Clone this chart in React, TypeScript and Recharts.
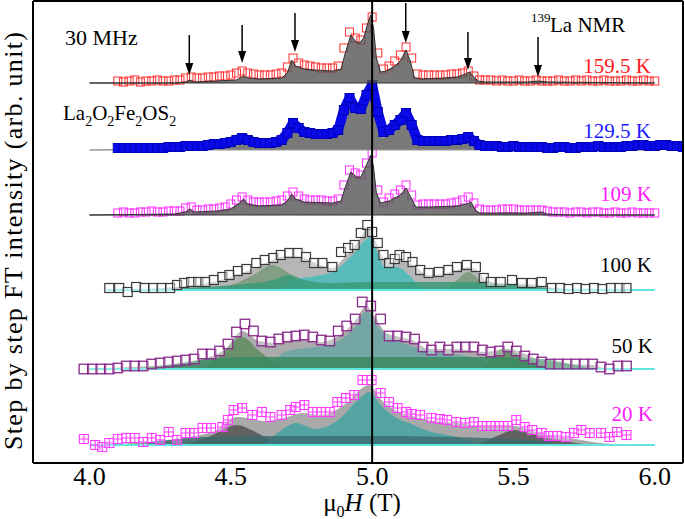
import React from 'react';
import { ComposedChart, Area, Line, Scatter, XAxis, YAxis, ReferenceLine } from 'recharts';

// field grid of the dense high-temperature spectra (T)
const gridX = [
  4.10, 4.12, 4.14, 4.16, 4.18, 4.20, 4.22, 4.24, 4.26, 4.28, 4.30,
  4.32, 4.34, 4.36, 4.38, 4.40, 4.42, 4.44, 4.46, 4.48, 4.50,
  4.52, 4.54, 4.56, 4.58, 4.60, 4.62, 4.64, 4.66, 4.68, 4.70,
  4.72, 4.74, 4.76, 4.78, 4.80, 4.82, 4.84, 4.86, 4.88, 4.90,
  4.92, 4.94, 4.96, 4.98, 5.00, 5.02, 5.04, 5.06, 5.08, 5.10,
  5.12, 5.14, 5.16, 5.18, 5.20, 5.22, 5.24, 5.26, 5.28, 5.30,
  5.32, 5.34, 5.36, 5.38, 5.40, 5.42, 5.44, 5.46, 5.48, 5.50,
  5.52, 5.54, 5.56, 5.58, 5.60, 5.62, 5.64, 5.66, 5.68, 5.70,
  5.72, 5.74, 5.76, 5.78, 5.80, 5.82, 5.84, 5.86, 5.88, 5.90,
  5.92, 5.94, 5.96, 5.98, 6.00,
];
const gridXWide = [...gridX, 6.02, 6.04, 6.06, 6.08, 6.10];

// vertical offsets of each trace (arb. unit)
const base159 = 380;
const base129 = 313;
const base109 = 248;
const base100 = 173;
const base50 = 94;
const base20 = 18;

// 159.5 K
const data159 = [
  2, 1, 2, 3, 1, 2, 2, 3, 2, 2, 3,
  3, 5, 6, 5, 5, 6, 6, 7, 7, 8,
  10, 12, 10, 9, 8, 8, 8, 9, 10, 16,
  25, 20, 18, 17, 16, 15, 15, 15, 17, 35,
  51, 45, 43, 55, 66, 30, 14, 17, 22, 28,
  36, 25, 9, 8, 8, 8, 8, 8, 9, 9,
  10, 12, 7, 3, 3, 3, 2, 3, 2, 2,
  3, 2, 2, 3, 2, 2, 2, 3, 2, 2,
  3, 2, 3, 2, 2, 3, 2, 2, 2, 3,
  2, 2, 3, 2, 2,
];
const fit159 = [
  [4.0, 0], [4.30, 0], [4.34, 1], [4.355, 3], [4.37, 1], [4.45, 2], [4.52, 3], [4.545, 7], [4.56, 5],
  [4.60, 4], [4.68, 5], [4.70, 10], [4.715, 23], [4.73, 17], [4.76, 14], [4.80, 13], [4.86, 12],
  [4.89, 14], [4.905, 30], [4.925, 48], [4.94, 42], [4.955, 40], [4.97, 45], [4.985, 60], [4.995, 68],
  [5.005, 55], [5.015, 25], [5.03, 11], [5.05, 12], [5.08, 17], [5.10, 22], [5.12, 33], [5.135, 22],
  [5.15, 5], [5.17, 4], [5.25, 5], [5.30, 6], [5.33, 9], [5.345, 11], [5.36, 6], [5.375, 2], [5.40, 1],
  [5.55, 1], [5.59, 2], [5.62, 1], [6.0, 0],
];

// 129.5 K
const data129 = [
  2, 2, 2, 2, 2, 2, 2, 2, 2, 3, 3,
  3, 4, 4, 4, 4, 5, 6, 6, 7, 8,
  10, 12, 10, 8, 7, 7, 7, 8, 10, 17,
  27, 22, 18, 17, 16, 16, 16, 17, 20, 40,
  52, 42, 41, 55, 65, 38, 18, 20, 25, 30,
  37, 25, 10, 9, 9, 9, 9, 9, 10, 10,
  11, 13, 9, 5, 4, 4, 4, 3, 3, 4,
  3, 3, 3, 3, 3, 2, 2, 3, 3, 2,
  2, 3, 3, 3, 4, 3, 3, 3, 3, 4,
  4, 5, 5, 4, 4, 5, 5, 4, 4, 3,
];
const fit129 = [
  [4.0, 0], [4.34, 1], [4.355, 3], [4.37, 1], [4.45, 2], [4.52, 4], [4.545, 8], [4.56, 5], [4.68, 6],
  [4.70, 12], [4.715, 22], [4.74, 16], [4.86, 13], [4.89, 16], [4.905, 32], [4.925, 48], [4.945, 38],
  [4.96, 38], [4.985, 55], [4.995, 63], [5.005, 50], [5.02, 20], [5.035, 12], [5.08, 18], [5.12, 33],
  [5.15, 6], [5.20, 5], [5.30, 7], [5.345, 10], [5.37, 4], [5.40, 1], [5.60, 1], [6.0, 0],
];

// 109 K
const data109 = [
  2, 3, 2, 2, 3, 3, 4, 3, 3, 4, 4,
  4, 7, 8, 5, 5, 6, 6, 7, 8, 11,
  15, 18, 15, 13, 13, 13, 13, 14, 15, 19,
  23, 19, 16, 15, 15, 15, 14, 14, 16, 30,
  45, 42, 40, 52, 62, 25, 13, 17, 21, 25,
  30, 20, 10, 11, 11, 11, 11, 11, 12, 13,
  15, 18, 12, 6, 5, 5, 5, 6, 6, 6,
  5, 5, 5, 5, 5, 4, 3, 3, 3, 2,
  3, 3, 2, 3, 3, 2, 2, 3, 2, 2,
  3, 2, 2, 2, 2,
];
const fit109 = [
  [4.0, 0], [4.30, 1], [4.34, 3], [4.355, 6], [4.37, 3], [4.45, 4], [4.50, 6], [4.53, 12], [4.545, 16],
  [4.56, 11], [4.60, 9], [4.68, 10], [4.70, 14], [4.715, 21], [4.73, 16], [4.76, 13], [4.86, 12],
  [4.89, 14], [4.905, 28], [4.925, 43], [4.945, 38], [4.96, 38], [4.98, 50], [4.995, 60], [5.005, 48],
  [5.015, 22], [5.03, 12], [5.06, 14], [5.10, 20], [5.12, 27], [5.14, 16], [5.155, 8], [5.20, 8],
  [5.30, 9], [5.335, 11], [5.35, 13], [5.365, 5], [5.38, 2], [5.55, 2], [5.60, 3], [5.62, 1], [5.70, 0], [6.0, 0],
];

// 100 K
const data100 = [
  [4.07, 2], [4.105, 2], [4.135, -2], [4.165, 3], [4.195, 2], [4.225, 2], [4.255, 2], [4.285, 2],
  [4.31, 5], [4.335, 7], [4.36, 8], [4.385, 8], [4.41, 8], [4.44, 10], [4.47, 13], [4.495, 15],
  [4.525, 19], [4.555, 21], [4.59, 27], [4.62, 30], [4.65, 32], [4.677, 35], [4.707, 37], [4.736, 37],
  [4.766, 33], [4.795, 27], [4.824, 27], [4.859, 23], [4.89, 38], [4.915, 42], [4.938, 45], [4.96, 57],
  [4.983, 65], [5.0, 58], [5.02, 47], [5.04, 35], [5.06, 27], [5.08, 31], [5.097, 35], [5.12, 33],
  [5.143, 28], [5.17, 20], [5.2, 17], [5.236, 18], [5.27, 20], [5.3, 23], [5.335, 25], [5.367, 23],
  [5.395, 12], [5.42, 8], [5.455, 8], [5.495, 10], [5.53, 7], [5.565, 7], [5.6, 8], [5.636, 2],
  [5.665, 2], [5.695, 1], [5.725, 2], [5.755, 1], [5.785, 2], [5.815, 1], [5.845, 2], [5.875, 2], [5.9, 2],
];
const total100 = [
  [4.0, 0], [4.2, 1], [4.3, 3], [4.4, 6], [4.5, 13], [4.6, 24], [4.7, 34], [4.75, 33], [4.8, 27],
  [4.86, 22], [4.9, 32], [4.95, 48], [4.985, 62], [5.01, 50], [5.04, 32], [5.07, 28], [5.1, 31],
  [5.14, 26], [5.2, 15], [5.25, 16], [5.3, 20], [5.34, 23], [5.38, 18], [5.4, 10], [5.45, 7],
  [5.55, 6], [5.62, 3], [5.7, 1], [6.0, 0],
];
const olive100 = [
  [4.0, 0], [4.4, 0], [4.5, 5], [4.58, 15], [4.647, 25], [4.7, 18], [4.75, 6], [4.8, 0],
  [5.25, 0], [5.3, 10], [5.34, 18], [5.38, 10], [5.42, 0], [6.0, 0],
];
const green100 = [
  [4.0, 0], [4.2, 0], [4.4, 3], [4.55, 6], [4.65, 10], [4.706, 15], [4.76, 10], [4.85, 7], [5.0, 8],
  [5.2, 8], [5.35, 8], [5.45, 6], [5.55, 4], [5.65, 1], [5.7, 0], [6.0, 0],
];
const teal100 = [
  [4.0, 0], [4.65, 0], [4.72, 10], [4.8, 14], [4.86, 18], [4.93, 35], [4.99, 52], [5.02, 38],
  [5.04, 24], [5.09, 23], [5.13, 15], [5.18, 2], [5.22, 0], [6.0, 0],
];

// 50 K
const data50 = [
  [3.98, 0], [4.01, 0], [4.04, 0], [4.07, 0], [4.10, 1], [4.13, 3], [4.16, 3], [4.19, 3], [4.22, 5],
  [4.25, 6], [4.28, 7], [4.31, 8], [4.34, 9], [4.37, 10], [4.40, 15], [4.43, 15], [4.46, 18], [4.49, 25],
  [4.52, 37], [4.55, 45], [4.58, 38], [4.61, 28], [4.64, 27], [4.67, 30], [4.70, 32], [4.73, 33],
  [4.76, 34], [4.79, 32], [4.82, 29], [4.85, 28], [4.88, 38], [4.91, 43], [4.94, 50], [4.965, 67],
  [4.995, 63], [5.03, 50], [5.06, 33], [5.09, 33], [5.12, 32], [5.15, 30], [5.18, 22], [5.21, 19],
  [5.24, 22], [5.27, 19], [5.30, 22], [5.33, 22], [5.36, 22], [5.39, 19], [5.42, 17], [5.45, 18],
  [5.48, 22], [5.51, 18], [5.54, 13], [5.57, 10], [5.60, 7], [5.63, 5], [5.66, 5], [5.69, 5], [5.72, 5],
  [5.75, 5], [5.78, 5], [5.81, 2], [5.84, 0], [5.87, 3], [5.90, 3],
];
const total50 = [
  [4.0, 0], [4.15, 2], [4.3, 5], [4.4, 10], [4.48, 20], [4.54, 38], [4.6, 28], [4.66, 26], [4.74, 30],
  [4.82, 27], [4.88, 33], [4.94, 48], [4.98, 63], [5.01, 52], [5.05, 36], [5.1, 32], [5.15, 28],
  [5.2, 20], [5.3, 20], [5.4, 17], [5.48, 20], [5.55, 14], [5.6, 8], [5.7, 5], [5.78, 4], [5.82, 1],
  [5.9, 0], [6.0, 0],
];
const olive50 = [
  [4.0, 0], [4.35, 0], [4.45, 10], [4.54, 32], [4.6, 18], [4.66, 5], [4.72, 0],
  [5.38, 0], [5.46, 20], [5.52, 14], [5.6, 3], [5.65, 0], [6.0, 0],
];
const green50 = [
  [4.0, 0], [4.1, 0], [4.3, 5], [4.45, 11], [4.6, 12], [5.0, 12], [5.4, 12], [5.6, 10], [5.7, 5],
  [5.8, 0], [6.0, 0],
];
const teal50 = [
  [4.0, 0], [4.6, 0], [4.7, 18], [4.8, 22], [4.88, 28], [4.94, 42], [4.98, 58], [5.02, 42], [5.06, 33],
  [5.15, 22], [5.25, 16], [5.35, 12], [5.45, 0], [6.0, 0],
];

// 20 K
const data20 = [
  [3.98, 6], [4.02, 0], [4.045, -2], [4.07, 2], [4.10, 6], [4.13, 7], [4.16, 7], [4.19, 3], [4.22, 7],
  [4.25, 5], [4.28, 13], [4.31, 5], [4.34, 12], [4.37, 12], [4.40, 17], [4.43, 17], [4.47, 18],
  [4.49, 25], [4.51, 35], [4.54, 37], [4.576, 30], [4.61, 33], [4.64, 28], [4.68, 30], [4.71, 35],
  [4.73, 38], [4.76, 40], [4.79, 33], [4.82, 33], [4.85, 33], [4.877, 43], [4.907, 47], [4.936, 50],
  [4.966, 65], [4.998, 65], [5.03, 52], [5.06, 43], [5.09, 37], [5.12, 33], [5.14, 31], [5.17, 30],
  [5.21, 27], [5.24, 26], [5.265, 25], [5.297, 23], [5.33, 22], [5.36, 23], [5.39, 19], [5.42, 19],
  [5.45, 19], [5.48, 19], [5.51, 25], [5.54, 18], [5.566, 15], [5.6, 12], [5.625, 9], [5.655, 9],
  [5.685, 8], [5.714, 12], [5.74, 15], [5.77, 12], [5.81, 12], [5.84, 8], [5.866, 13], [5.9, 10],
];
const total20 = [
  [4.0, 0], [4.2, 3], [4.35, 8], [4.45, 15], [4.52, 28], [4.56, 27], [4.62, 24], [4.7, 28], [4.75, 32],
  [4.82, 30], [4.9, 40], [4.96, 56], [4.99, 60], [5.03, 46], [5.08, 35], [5.13, 30], [5.2, 25],
  [5.3, 22], [5.4, 19], [5.5, 19], [5.58, 13], [5.65, 8], [5.72, 6], [5.78, 3], [5.85, 1], [6.0, 0],
];
const dark20 = [
  [4.0, 0], [4.3, 0], [4.42, 8], [4.52, 20], [4.58, 14], [4.65, 4], [4.72, 0],
  [5.35, 0], [5.45, 10], [5.5, 15], [5.58, 10], [5.68, 4], [5.8, 0], [6.0, 0],
];
const teal20 = [
  [4.0, 0], [4.6, 0], [4.68, 15], [4.73, 22], [4.8, 16], [4.88, 25], [4.95, 45], [4.99, 53], [5.03, 40],
  [5.08, 28], [5.13, 22], [5.2, 14], [5.3, 8], [5.4, 0], [6.0, 0],
];
const slate20 = [
  [4.0, 0], [4.1, 0], [4.25, 4], [4.4, 8], [4.6, 9], [5.0, 9], [5.4, 7], [5.6, 4], [5.7, 0], [6.0, 0],
];

// arrows marking the satellite lines: field, tail, tip
const arrowX = [4.353, 4.54, 4.727, 5.119, 5.339, 5.587];
const arrowTop = [428, 438, 450, 460, 431, 426];
const arrowTip = [388, 400, 411, 420, 393, 386];

const xMajor = [4.0, 4.5, 5.0, 5.5, 6.0];
const xMinor = [3.9, 4.0, 4.1, 4.2, 4.3, 4.4, 4.5, 4.6, 4.7, 4.8, 4.9, 5.0, 5.1, 5.2, 5.3, 5.4, 5.5, 5.6, 5.7, 5.8, 5.9, 6.0];
const yLong = [16.5, 49.5, 82.5, 115.5, 148.5, 181.5, 214.5, 247.5, 280.5, 313.5, 346.5, 379.5, 412.5, 445.5];
const yShort = [33, 66, 99, 132, 165, 198, 231, 264, 297, 330, 363, 396, 429];

const onGrid = (xs: number[], hs: number[], b: number) => xs.map((x, i) => ({ x, y: b + hs[i] }));
const pts = (p: number[][], b: number) => p.map(([x, h]) => ({ x, y: b + h }));
const band = (p: number[][], b: number) => p.map(([x, h]) => ({ x, y: [b, b + h] }));
const flat = (b: number) => [{ x: 4.0, y: b }, { x: 6.0, y: b }];

const FONT = 'Liberation Serif, Tinos, DejaVu Serif, serif';

const square = (size: number, stroke: string, fill: string, sw: number, cross = false) => (p: any) => {
  const { cx, cy } = p;
  if (cx == null || cy == null) return <g />;
  const h = size / 2;
  return (
    <g>
      <rect x={cx - h} y={cy - h} width={size} height={size} fill={fill} stroke={stroke} strokeWidth={sw} />
      {cross && <path d={`M${cx - h} ${cy}H${cx + h}M${cx} ${cy - h}V${cy + h}`} stroke={stroke} strokeWidth={sw} />}
    </g>
  );
};

const arrowHead = (p: any) => {
  const { cx, cy } = p;
  if (cx == null || cy == null) return <g />;
  return <polygon points={`${cx - 4},${cy - 12} ${cx + 4},${cy - 12} ${cx},${cy}`} fill="#000" />;
};

const txt = (size: number, extra: React.CSSProperties = {}): React.CSSProperties => ({ fontFamily: FONT, fontSize: size, ...extra });

export default function App() {
  const arrows = arrowX.map((x, i) => ({ x, top: arrowTop[i], y: arrowTip[i] }));
  let z = 10;
  const nz = () => (z += 1);
  return (
    <div style={{ position: 'absolute', left: 0, top: 0, width: 685, height: 519, background: '#fff', fontFamily: FONT }}>
      <ComposedChart width={685} height={519} margin={{ top: 1, right: 2, bottom: 16, left: 33 }}>
        <XAxis dataKey="x" type="number" domain={[3.8, 6.1]} allowDataOverflow ticks={xMajor}
          tickFormatter={(v: number) => v.toFixed(1)} tickLine={false} tickSize={0} tickMargin={4} height={40}
          axisLine={{ stroke: '#000', strokeWidth: 2 }} tick={{ fill: '#000', style: txt(26) }} />
        <XAxis xAxisId="bMinor" dataKey="x" type="number" domain={[3.8, 6.1]} allowDataOverflow ticks={xMinor}
          mirror tickSize={6} tick={false} axisLine={false} tickLine={{ stroke: '#000', strokeWidth: 2 }} />
        <XAxis xAxisId="bMajor" dataKey="x" type="number" domain={[3.8, 6.1]} allowDataOverflow ticks={xMajor}
          mirror tickSize={11} tick={false} axisLine={false} tickLine={{ stroke: '#000', strokeWidth: 2 }} />
        <XAxis xAxisId="top" orientation="top" dataKey="x" type="number" domain={[3.8, 6.1]} allowDataOverflow ticks={xMinor}
          mirror tickSize={7} tick={false} axisLine={{ stroke: '#000', strokeWidth: 2 }} tickLine={{ stroke: '#000', strokeWidth: 2 }} />
        <YAxis dataKey="y" type="number" domain={[0, 462]} allowDataOverflow ticks={yLong} mirror tickSize={12}
          tick={false} axisLine={{ stroke: '#000', strokeWidth: 2 }} tickLine={{ stroke: '#000', strokeWidth: 2 }} />
        <YAxis yAxisId="lShort" type="number" domain={[0, 462]} allowDataOverflow ticks={yShort} mirror tickSize={7}
          tick={false} axisLine={false} tickLine={{ stroke: '#000', strokeWidth: 2 }} />
        <YAxis yAxisId="r" orientation="right" type="number" domain={[0, 462]} allowDataOverflow ticks={yLong} mirror tickSize={12}
          tick={false} axisLine={{ stroke: '#000', strokeWidth: 2 }} tickLine={{ stroke: '#000', strokeWidth: 2 }} />
        <YAxis yAxisId="rShort" orientation="right" type="number" domain={[0, 462]} allowDataOverflow ticks={yShort} mirror tickSize={7}
          tick={false} axisLine={false} tickLine={{ stroke: '#000', strokeWidth: 2 }} />

        {/* 20 K */}
        <Area data={band(total20, base20)} dataKey="y" type="monotone" fill="#a9a9a9" fillOpacity={1} stroke="none" isAnimationActive={false} zIndex={nz()} />
        <Area data={band(dark20, base20)} dataKey="y" type="monotone" fill="#555" fillOpacity={0.85} stroke="none" isAnimationActive={false} zIndex={nz()} />
        <Area data={band(teal20, base20)} dataKey="y" type="monotone" fill="#45a3a3" fillOpacity={0.85} stroke="none" isAnimationActive={false} zIndex={nz()} />
        <Area data={band(slate20, base20)} dataKey="y" type="monotone" fill="#3b6a6e" fillOpacity={0.8} stroke="none" isAnimationActive={false} zIndex={nz()} />
        <Line data={flat(base20)} dataKey="y" stroke="#5ee8e0" strokeWidth={2} dot={false} isAnimationActive={false} zIndex={nz()} />
        <Scatter data={pts(data20, base20)} shape={square(9, '#ff3cff', 'rgba(255,255,255,0.25)', 1.1, true)} isAnimationActive={false} zIndex={nz()} />

        {/* 50 K */}
        <Area data={band(total50, base50)} dataKey="y" type="monotone" fill="#ababab" fillOpacity={1} stroke="none" isAnimationActive={false} zIndex={nz()} />
        <Area data={band(teal50, base50)} dataKey="y" type="monotone" fill="#6aa4a4" fillOpacity={0.85} stroke="none" isAnimationActive={false} zIndex={nz()} />
        <Area data={band(olive50, base50)} dataKey="y" type="monotone" fill="#5e8c60" fillOpacity={0.85} stroke="none" isAnimationActive={false} zIndex={nz()} />
        <Area data={band(green50, base50)} dataKey="y" type="monotone" fill="#3a8a62" fillOpacity={0.85} stroke="none" isAnimationActive={false} zIndex={nz()} />
        <Line data={flat(base50)} dataKey="y" stroke="#5ee8e0" strokeWidth={2} dot={false} isAnimationActive={false} zIndex={nz()} />
        <Scatter data={pts(data50, base50)} shape={square(9.5, '#8a2a8a', 'rgba(255,255,255,0.3)', 1.3)} isAnimationActive={false} zIndex={nz()} />

        {/* 100 K */}
        <Area data={band(total100, base100)} dataKey="y" type="monotone" fill="#b6b6b6" fillOpacity={1} stroke="none" isAnimationActive={false} zIndex={nz()} />
        <Area data={band(olive100, base100)} dataKey="y" type="monotone" fill="#7c9c7d" fillOpacity={0.9} stroke="none" isAnimationActive={false} zIndex={nz()} />
        <Area data={band(teal100, base100)} dataKey="y" type="monotone" fill="#4fbaba" fillOpacity={0.9} stroke="none" isAnimationActive={false} zIndex={nz()} />
        <Area data={band(green100, base100)} dataKey="y" type="monotone" fill="#3a9a78" fillOpacity={0.85} stroke="none" isAnimationActive={false} zIndex={nz()} />
        <Line data={[{ x: 4.06, y: base100 }, { x: 6.0, y: base100 }]} dataKey="y" stroke="#5ee8e0" strokeWidth={2} dot={false} isAnimationActive={false} zIndex={nz()} />
        <Scatter data={pts(data100, base100)} shape={square(9, '#3a3a3a', 'rgba(255,255,255,0.45)', 1.2)} isAnimationActive={false} zIndex={nz()} />

        {/* 109 K */}
        <Scatter data={onGrid(gridX, data109, base109)} shape={square(8, '#ff2eff', 'none', 1)} isAnimationActive={false} zIndex={nz()} />
        <Area data={band(fit109, base109)} dataKey="y" type="linear" fill="#555" fillOpacity={0.8} stroke="#333" strokeWidth={1} isAnimationActive={false} zIndex={nz()} />

        {/* 129.5 K */}
        <Area data={band(fit129, base129)} dataKey="y" type="linear" fill="#6a6a6a" fillOpacity={0.9} stroke="#999" strokeWidth={1} isAnimationActive={false} zIndex={nz()} />
        <Line data={onGrid(gridXWide, data129, base129)} dataKey="y" type="linear" stroke="#0a0ae8" strokeWidth={10} strokeLinejoin="round" dot={false} isAnimationActive={false} zIndex={nz()} />
        <Scatter data={onGrid(gridXWide, data129, base129)} shape={square(9, '#0000b8', '#0a0ae8', 1)} isAnimationActive={false} zIndex={nz()} />

        {/* 159.5 K */}
        <Scatter data={onGrid(gridX, data159, base159)} shape={square(8, '#ff3030', 'none', 1)} isAnimationActive={false} zIndex={nz()} />
        <Area data={band(fit159, base159)} dataKey="y" type="linear" fill="#555" fillOpacity={0.8} stroke="#333" strokeWidth={1} isAnimationActive={false} zIndex={nz()} />

        <ReferenceLine x={5.0} stroke="#000" strokeWidth={2} zIndex={nz()} />
        {arrows.map((a) => (
          <ReferenceLine key={a.x} segment={[{ x: a.x, y: a.top }, { x: a.x, y: a.y + 8 }]} stroke="#000" strokeWidth={1.5} zIndex={nz()} />
        ))}
        <Scatter data={arrows} shape={arrowHead} isAnimationActive={false} zIndex={nz()} />
      </ComposedChart>

      <svg width={685} height={519} style={{ position: 'absolute', left: 0, top: 0, pointerEvents: 'none' }}>
        <g fill="#000">
          <text x={65} y={45} style={txt(22)}>30 MHz</text>
          <text x={63} y={120} style={txt(21)}>
            La<tspan style={txt(14)} dy={6}>2</tspan><tspan dy={-6}>O</tspan><tspan style={txt(14)} dy={6}>2</tspan>
            <tspan dy={-6}>Fe</tspan><tspan style={txt(14)} dy={6}>2</tspan><tspan dy={-6}>OS</tspan><tspan style={txt(14)} dy={6}>2</tspan>
          </text>
          <text x={531} y={22} style={txt(13)}>139</text>
          <text x={550} y={32} style={txt(21)}>La NMR</text>
          <text x={651} y={73} style={txt(21)} textAnchor="end" fill="#ff1a1a">159.5 K</text>
          <text x={651} y={138} style={txt(21)} textAnchor="end" fill="#1a1aff">129.5 K</text>
          <text x={652} y={201} style={txt(21)} textAnchor="end" fill="#ff1aff">109 K</text>
          <text x={652} y={272} style={txt(21)} textAnchor="end">100 K</text>
          <text x={653} y={353} style={txt(21)} textAnchor="end">50 K</text>
          <text x={653} y={421} style={txt(21)} textAnchor="end" fill="#ff1aff">20 K</text>
          <text x={362} y={511} style={txt(25)} textAnchor="middle">
            μ<tspan style={txt(16)} dy={6}>0</tspan><tspan dy={-6} style={txt(25, { fontStyle: 'italic' })}>H</tspan> (T)
          </text>
          <text transform="translate(22,241) rotate(-90)" style={txt(26)} textAnchor="middle"
            textLength={418} lengthAdjust="spacing">Step by step FT intensity (arb. unit)</text>
        </g>
      </svg>
    </div>
  );
}
